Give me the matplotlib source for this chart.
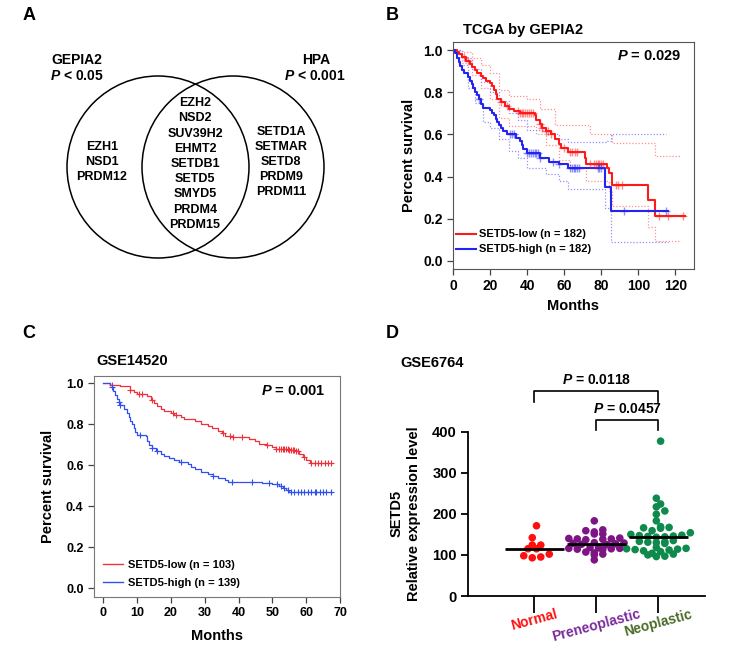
import numpy as np
import matplotlib.pyplot as plt
from matplotlib.lines import Line2D
from matplotlib.patches import Circle

plt.rcParams['font.family'] = 'Liberation Sans'
plt.rcParams['font.weight'] = 'bold'
plt.rcParams['axes.labelweight'] = 'bold'
plt.rcParams['axes.titleweight'] = 'bold'
plt.rcParams['mathtext.fontset'] = 'custom'
plt.rcParams['mathtext.it'] = 'Liberation Sans:italic:bold'
plt.rcParams['mathtext.rm'] = 'Liberation Sans:bold'
plt.rcParams['mathtext.bf'] = 'Liberation Sans:bold'

# ---- Panel A: Venn lists
gepia_only = ["EZH1", "NSD1", "PRDM12"]
shared = ["EZH2", "NSD2", "SUV39H2", "EHMT2", "SETDB1", "SETD5", "SMYD5", "PRDM4", "PRDM15"]
hpa_only = ["SETD1A", "SETMAR", "SETD8", "PRDM9", "PRDM11"]

# ---- Panel B: TCGA by GEPIA2 (months, survival)
b_low_t = [0, 2, 3, 5, 7, 9, 10, 12, 13, 15, 16, 18, 20, 21, 22, 23, 24, 26, 28, 30, 33, 36, 44, 45,
           47, 48, 50, 53, 55, 57, 58, 62, 71, 72, 83, 84, 86, 105, 109, 125]
b_low_s = [1.0, 0.99, 0.98, 0.965, 0.95, 0.935, 0.92, 0.905, 0.89, 0.875, 0.865, 0.855, 0.845, 0.83,
           0.81, 0.79, 0.77, 0.755, 0.735, 0.72, 0.71, 0.70, 0.69, 0.67, 0.65, 0.63, 0.615, 0.60, 0.58,
           0.555, 0.535, 0.515, 0.49, 0.46, 0.44, 0.415, 0.36, 0.29, 0.215, 0.215]
b_high_t = [0, 1, 2, 3, 4, 5, 6, 8, 9, 10, 11, 12, 13, 14, 15, 16, 20, 21, 22, 23, 24, 25, 26, 27, 29,
            34, 36, 37, 38, 40, 47, 52, 57, 62, 82, 85, 116]
b_high_s = [1.0, 0.985, 0.96, 0.945, 0.925, 0.905, 0.89, 0.87, 0.855, 0.84, 0.82, 0.80, 0.785, 0.77,
            0.745, 0.725, 0.715, 0.70, 0.69, 0.675, 0.66, 0.645, 0.63, 0.615, 0.60, 0.585, 0.57, 0.55,
            0.53, 0.51, 0.49, 0.47, 0.46, 0.44, 0.35, 0.235, 0.235]
b_low_up_t = [0, 5, 10, 15, 20, 25, 30, 40, 47, 55, 74, 86, 109, 123]
b_low_up_s = [1.0, 0.99, 0.96, 0.93, 0.89, 0.81, 0.78, 0.77, 0.72, 0.645, 0.60, 0.56, 0.50, 0.50]
b_low_lo_t = [0, 5, 10, 15, 20, 25, 30, 45, 50, 57, 63, 72, 84, 86, 105, 109, 123]
b_low_lo_s = [1.0, 0.94, 0.88, 0.82, 0.77, 0.68, 0.64, 0.60, 0.55, 0.48, 0.44, 0.38, 0.33, 0.26, 0.16,
              0.095, 0.095]
b_high_up_t = [0, 5, 10, 15, 20, 25, 30, 35, 40, 50, 57, 62, 83, 85, 115]
b_high_up_s = [1.0, 0.96, 0.91, 0.85, 0.80, 0.76, 0.70, 0.67, 0.62, 0.60, 0.58, 0.565, 0.57, 0.60, 0.60]
b_high_lo_t = [0, 3, 8, 12, 16, 20, 25, 30, 35, 40, 50, 57, 62, 82, 85, 116]
b_high_lo_s = [1.0, 0.93, 0.82, 0.75, 0.66, 0.63, 0.58, 0.52, 0.49, 0.44, 0.41, 0.38, 0.34, 0.25, 0.09,
               0.09]
b_low_cens = [6, 8, 26, 29, 35, 36, 37, 38, 39, 40, 41, 42, 43, 47, 48, 50, 51, 53, 60, 63, 64, 66, 67,
              74, 76, 77, 78, 79, 80, 81, 88, 89, 91, 111, 116, 124]
b_high_cens = [14, 31, 32, 33, 40, 41, 42, 43, 44, 45, 46, 47, 54, 57, 63, 64, 65, 66, 67, 68, 78, 79,
               80, 92, 115]

# ---- Panel C: GSE14520
c_low_t = [0, 2, 5, 8, 9, 10, 13, 14, 15, 16, 17, 18, 20, 21, 23, 24, 27, 29, 31, 32, 34, 35, 36, 38,
           43, 45, 46, 48, 50, 51, 55, 57, 58, 59, 60, 61, 67.5]
c_low_s = [1.0, 0.99, 0.985, 0.97, 0.96, 0.95, 0.94, 0.92, 0.905, 0.89, 0.875, 0.865, 0.855, 0.845,
           0.835, 0.825, 0.815, 0.80, 0.79, 0.78, 0.77, 0.76, 0.745, 0.74, 0.73, 0.72, 0.705, 0.70, 0.69,
           0.68, 0.675, 0.67, 0.655, 0.64, 0.625, 0.61, 0.61]
c_high_t = [0, 2, 2.5, 3, 3.5, 4, 4.5, 5, 6, 7, 7.5, 8, 8.5, 9, 9.5, 10, 12.5, 13, 13.5, 14.5, 15.5, 17,
            18, 19.5, 21, 22.5, 25, 26, 27, 29, 31, 32.5, 34, 36, 37, 47, 50, 52, 53, 54, 55, 67.5]
c_high_s = [1.0, 0.99, 0.98, 0.965, 0.945, 0.925, 0.91, 0.895, 0.875, 0.855, 0.835, 0.815, 0.80, 0.78,
            0.765, 0.75, 0.745, 0.72, 0.70, 0.685, 0.67, 0.655, 0.645, 0.635, 0.625, 0.615, 0.605, 0.59,
            0.58, 0.57, 0.56, 0.55, 0.54, 0.53, 0.52, 0.515, 0.51, 0.50, 0.49, 0.48, 0.47, 0.47]
c_low_cens = [2.5, 8, 10.5, 11.5, 14.5, 20.5, 21.5, 35.5, 37.5, 38.5, 41, 48.5, 51, 52, 52.5, 53, 53.5,
              54, 54.5, 55, 55.5, 56, 56.5, 57, 57.5, 59.5, 61.5, 62.5, 63.5, 64.5, 65.5, 66.5, 67.2]
c_high_cens = [2.5, 4.5, 5, 11, 14.5, 16, 23, 32.5, 38, 44, 49, 51.5, 52.5, 53.5, 54.5, 55.5, 56.5,
               57.5, 58.5, 59.5, 60.5, 61.5, 62.5, 63, 64, 65, 66, 67.2]

# ---- Panel D: GSE6764
groups = ["Normal", "Preneoplastic", "Neoplastic"]
normal = [171, 142, 124, 124, 115, 115, 102, 98, 95, 93]
preneoplastic = [183, 161, 159, 156, 151, 151, 141, 140, 139, 139, 138, 137, 130, 129, 128, 127, 126,
                 125, 118, 117, 116, 116, 115, 114, 113, 107, 105, 102, 100, 88]
neoplastic = [377, 238, 224, 217, 207, 199, 183, 169, 167, 166, 165, 159, 154, 150, 148, 147, 146, 145,
              144, 143, 135, 133, 132, 131, 130, 128, 118, 116, 115, 114, 113, 112, 110, 108, 104, 102,
              100, 97, 96]
d_colors = ["#FF1010", "#7E1585", "#0E8A4C"]
label_colors = ["#FF1010", "#7B2A9C", "#4B6B2A"]
brackets = [(0, 2, "0.0118", 498), (1, 2, "0.0457", 428)]

RED_B, BLUE_B = "#FF1A1A", "#2424F0"
RED_C, BLUE_C = "#F0303A", "#3050F0"

W, H = 753, 648
fig = plt.figure(figsize=(W / 100, H / 100), dpi=100)

# overlay for panel letters and the Venn diagram (pixel coordinates)
ov = fig.add_axes([0, 0, 1, 1])
ov.set_xlim(0, W)
ov.set_ylim(H, 0)
ov.axis('off')
for lab, x, y in [("A", 29, 15), ("B", 392, 15), ("C", 29, 333), ("D", 392, 333)]:
    ov.text(x, y, lab, fontsize=13, ha='center', va='center')
ov.add_patch(Circle((158, 167), 91, fill=False, lw=1.1, color='black'))
ov.add_patch(Circle((233, 167), 91, fill=False, lw=1.1, color='black'))
ov.text(77, 60, "GEPIA2", fontsize=10, ha='center', va='center')
ov.text(77, 76, r"$\mathit{P}$ < 0.05", fontsize=10, ha='center', va='center')
ov.text(316, 60, "HPA", fontsize=10, ha='center', va='center')
ov.text(315, 76, r"$\mathit{P}$ < 0.001", fontsize=10, ha='center', va='center')
for names, cx, cy in [(gepia_only, 102, 162), (shared, 195, 164), (hpa_only, 281, 162)]:
    ov.text(cx, cy, "\n".join(names), fontsize=9, ha='center', va='center', linespacing=1.36)
ov.text(400, 363, "GSE6764", fontsize=10.5, ha='left', va='center')


def step_at(ts, ss, t):
    return np.array(ss)[np.searchsorted(ts, t, side='right') - 1]


def km_axes(ax, xticks, lsize):
    ax.set_yticks(np.arange(0, 1.01, 0.2))
    ax.set_yticklabels([f"{v:.1f}" for v in np.arange(0, 1.01, 0.2)])
    ax.set_xticks(xticks)
    ax.tick_params(direction='out', length=4, width=0.9, labelsize=lsize, color='#444444')
    ax.set_ylabel("Percent survival", fontsize=10.5)
    ax.set_xlabel("Months", fontsize=10.5)


# ---- B
axb = fig.add_axes([453 / W, 1 - 269 / H, 241 / W, 227 / H])
for t, s, c in [(b_low_up_t, b_low_up_s, "#FF9090"), (b_low_lo_t, b_low_lo_s, "#FF9090"),
                (b_high_up_t, b_high_up_s, "#9090FF"), (b_high_lo_t, b_high_lo_s, "#9090FF")]:
    axb.step(t, s, where='post', color=c, lw=0.9, ls=(0, (1, 1.5)))
axb.step(b_low_t, b_low_s, where='post', color=RED_B, lw=1.5)
axb.step(b_high_t, b_high_s, where='post', color=BLUE_B, lw=1.5)
axb.plot(b_low_cens, step_at(b_low_t, b_low_s, b_low_cens), '+', color=RED_B, ms=6, mew=1, alpha=0.5)
axb.plot(b_high_cens, step_at(b_high_t, b_high_s, b_high_cens), '+', color=BLUE_B, ms=6, mew=1, alpha=0.5)
axb.set_xlim(0, 130)
axb.set_ylim(-0.038, 1.038)
km_axes(axb, np.arange(0, 121, 20), 10)
for sp in axb.spines.values():
    sp.set_color('#555555')
axb.yaxis.labelpad = 5
axb.set_title("TCGA by GEPIA2", fontsize=10.5, loc='left', x=0.04, pad=6)
axb.text(0.95, 0.94, r"$\mathit{P}$ = 0.029", transform=axb.transAxes, fontsize=10.5, ha='right', va='center')
axb.legend([Line2D([], [], color=RED_B, lw=1.5), Line2D([], [], color=BLUE_B, lw=1.5)],
           ["SETD5-low (n = 182)", "SETD5-high (n = 182)"], loc='lower left', bbox_to_anchor=(-0.03, 0.02),
           frameon=False, fontsize=8, handlelength=1.8, handletextpad=0.3, labelspacing=0.45)

# ---- C
axc = fig.add_axes([94 / W, 1 - 597 / H, 246 / W, 221 / H])
axc.step(c_low_t, c_low_s, where='post', color=RED_C, lw=0.9)
axc.step(c_high_t, c_high_s, where='post', color=BLUE_C, lw=0.9)
axc.plot(c_low_cens, step_at(c_low_t, c_low_s, c_low_cens), '+', color=RED_C, ms=4, mew=0.8)
axc.plot(c_high_cens, step_at(c_high_t, c_high_s, c_high_cens), '+', color=BLUE_C, ms=4, mew=0.8)
axc.set_xlim(-2.75, 70)
axc.set_ylim(-0.042, 1.036)
km_axes(axc, np.arange(0, 71, 10), 9)
for sp in axc.spines.values():
    sp.set_color('#777777')
axc.xaxis.labelpad = 7
axc.yaxis.labelpad = 8
axc.set_title("GSE14520", fontsize=10.5, loc='left', x=0.01, pad=8)
axc.text(0.94, 0.93, r"$\mathit{P}$ = 0.001", transform=axc.transAxes, fontsize=10.5, ha='right', va='center')
axc.legend([Line2D([], [], color=RED_C, lw=1), Line2D([], [], color=BLUE_C, lw=1)],
           ["SETD5-low (n = 103)", "SETD5-high (n = 139)"], loc='lower left', bbox_to_anchor=(-0.005, -0.006),
           frameon=False, fontsize=8, handlelength=1.8, handletextpad=0.5, labelspacing=0.75)

# ---- D
axd = fig.add_axes([468 / W, 1 - 596 / H, 237 / W, 164.3 / H])
axd.set_xlim(-1.07, 2.75)
axd.set_ylim(0, 400)
xs_px = 237 / 3.82


def row_offsets(vals, h=13, dx=8.5):
    # Prism-like scatter: points binned into rows, spread evenly, alternate rows staggered
    vals = np.asarray(vals, float)
    bins = np.floor(vals / h).astype(int)
    offs = np.zeros(len(vals))
    for b in np.unique(bins):
        idx = np.where(bins == b)[0]
        idx = idx[np.argsort(vals[idx])]
        n = len(idx)
        pos = (np.arange(n) - (n - 1) / 2) * dx
        pos = pos[np.argsort(np.abs(pos), kind='stable')]
        offs[idx] = pos + (dx / 4 if b % 2 else -dx / 4)
    return offs / xs_px


for i, (vals, col) in enumerate(zip([normal, preneoplastic, neoplastic], d_colors)):
    xo = i + row_offsets(vals)
    axd.scatter(xo, vals, s=30, color=col, edgecolors='none', zorder=2, clip_on=False)
    axd.hlines(np.median(vals), i - 0.48, i + 0.48, color='black', lw=2, zorder=3)

for a, b, p, top in brackets:
    axd.plot([a, a, b, b], [top - 25, top, top, top - 25], color='black', lw=1.2, clip_on=False)
    axd.text((a + b) / 2, top + 10, r"$\mathit{P}$ = " + p, fontsize=10, ha='center', va='bottom')

axd.spines['top'].set_visible(False)
axd.spines['right'].set_visible(False)
axd.spines['left'].set_linewidth(1.3)
axd.spines['bottom'].set_linewidth(1.3)
axd.set_yticks([0, 100, 200, 300, 400])
axd.set_xticks(range(3))
axd.set_xticklabels(groups, rotation=15, ha='center', fontsize=10)
for tl, c in zip(axd.get_xticklabels(), label_colors):
    tl.set_color(c)
axd.tick_params(axis='y', direction='out', length=5, width=1.3, labelsize=10.5, pad=3)
axd.tick_params(axis='x', direction='out', length=12, width=1.3, pad=-4)
axd.set_ylabel("SETD5\nRelative expression level", fontsize=10.5, linespacing=1.3, labelpad=8)

fig.savefig("out.png", dpi=100)
